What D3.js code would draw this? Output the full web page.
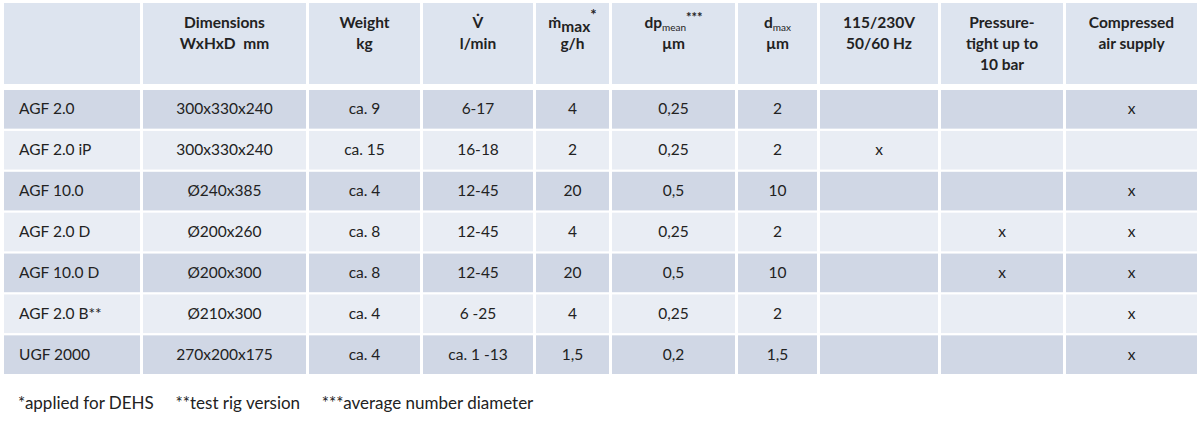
<!DOCTYPE html>
<html><head><meta charset="utf-8">
<script src="https://cdn.jsdelivr.net/npm/d3@7"></script>
<style>body{margin:0;background:#fff}svg{font-family:Lato,"Open Sans",sans-serif}</style>
</head><body><svg id="c" width="1199" height="421"></svg>
<script>
const models = ['AGF 2.0', 'AGF 2.0 iP', 'AGF 10.0', 'AGF 2.0 D', 'AGF 10.0 D', 'AGF 2.0 B**', 'UGF 2000']
const dimensions = ['300x330x240', '300x330x240', 'Ø240x385', 'Ø200x260', 'Ø200x300', 'Ø210x300', '270x200x175']
const weight = ['ca. 9', 'ca. 15', 'ca. 4', 'ca. 8', 'ca. 8', 'ca. 4', 'ca. 4']
const flow = ['6-17', '16-18', '12-45', '12-45', '12-45', '6 -25', 'ca. 1 -13']
const mmax = ['4', '2', '20', '4', '20', '4', '1,5']
const dpmean = ['0,25', '0,25', '0,5', '0,25', '0,5', '0,25', '0,2']
const dmax = ['2', '2', '10', '2', '10', '2', '1,5']
const power = ['', 'x', '', '', '', '', '']
const pressure = ['', '', '', 'x', 'x', '', '']
const air = ['x', '', 'x', 'x', 'x', 'x', 'x']
const colEdges = [3, 142, 308, 422, 535, 611, 737, 819, 940, 1065, 1199]
const footnotes = '*applied for DEHS     **test rig version     ***average number diameter'

const svg = d3.select('#c')
const columns = [models, dimensions, weight, flow, mmax, dpmean, dmax, power, pressure, air]
const x = i => colEdges[i] + 1
const w = i => colEdges[i + 1] - colEdges[i] - 3
const y = d3.scaleBand().domain(d3.range(7)).range([90, 374]).paddingInner(0.055)

// header
const head = svg.append('g')
d3.range(10).forEach(function (i) {
  head.append('rect').attr('x', x(i)).attr('y', 3).attr('width', w(i)).attr('height', 81).attr('fill', '#dde4ef')
})
function htext (i, lines) {
  const cx = x(i) + w(i) / 2
  lines.forEach(function (parts, k) {
    const t = head.append('text').attr('x', cx).attr('y', 28 + k * 21).attr('text-anchor', 'middle')
      .attr('font-size', 15.5).attr('font-weight', 'bold').attr('fill', '#222')
      .attr('xml:space', 'preserve').style('white-space', 'pre')
    parts.forEach(function (p) {
      const s = t.append('tspan').text(p[0])
      if (p[1]) s.attr('font-size', p[1])
      if (p[2]) s.attr('dy', p[2])
      if (p[3]) s.attr('font-weight', p[3])
    })
  })
}
htext(1, [[['Dimensions']], [['WxHxD  mm']]])
htext(2, [[['Weight']], [['kg']]])
htext(3, [[['V\u0307']], [['l/min']]])
htext(4, [[['m\u0307'], ['max', null, 4], ['*', 15, -12]], [['g/h']]])
htext(5, [[['dp'], ['mean', 10, 3, 'normal'], ['***', 13, -9]], [['µm']]])
htext(6, [[['d'], ['max', 10, 3, 'normal']], [['µm']]])
htext(7, [[['115/230V']], [['50/60 Hz']]])
htext(8, [[['Pressure-']], [['tight up to']], [['10 bar']]])
htext(9, [[['Compressed']], [['air supply']]])

// body rows
const body = svg.append('g')
d3.range(7).forEach(function (r) {
  columns.forEach(function (col, i) {
    body.append('rect').attr('x', x(i)).attr('y', y(r)).attr('width', w(i)).attr('height', y.bandwidth())
      .attr('fill', r % 2 === 0 ? '#d0d7e5' : '#e9edf4')
    body.append('text')
      .attr('x', i === 0 ? x(i) + 15 : x(i) + w(i) / 2)
      .attr('y', y(r) + y.bandwidth() / 2 + 5)
      .attr('text-anchor', i === 0 ? 'start' : 'middle')
      .attr('font-size', 15.5).attr('fill', '#222')
      .text(col[r])
  })
})

svg.append('text').attr('x', 18).attr('y', 409).attr('font-size', 17).attr('fill', '#222')
  .attr('xml:space', 'preserve').style('white-space', 'pre').text(footnotes)
</script></body></html>
